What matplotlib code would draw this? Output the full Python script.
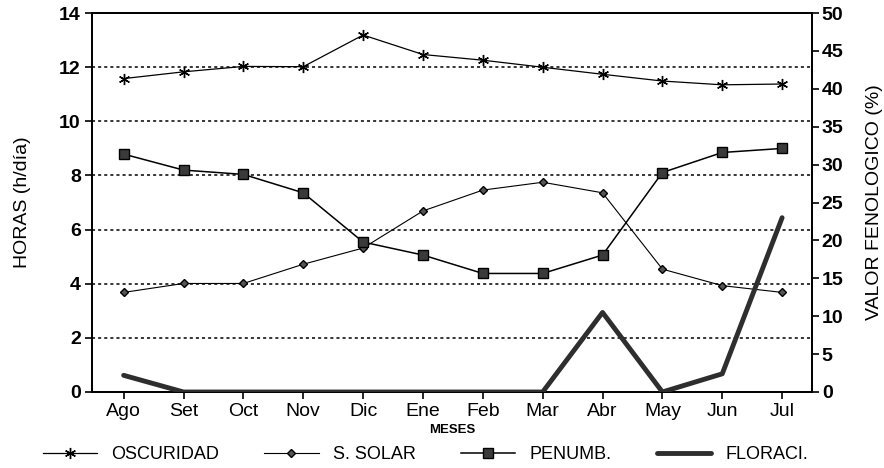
import numpy as np
import matplotlib
matplotlib.use("Agg")
import matplotlib.pyplot as plt

plt.rcParams['font.family'] = ['Liberation Sans', 'DejaVu Sans']

meses = ['Ago', 'Set', 'Oct', 'Nov', 'Dic', 'Ene', 'Feb', 'Mar', 'Abr', 'May', 'Jun', 'Jul']
oscuridad = [11.58, 11.83, 12.03, 12.02, 13.19, 12.47, 12.26, 12.0, 11.74, 11.49, 11.35, 11.38]
s_solar = [3.68, 4.01, 4.01, 4.72, 5.32, 6.69, 7.46, 7.75, 7.36, 4.54, 3.93, 3.68]
penumb = [8.79, 8.20, 8.04, 7.36, 5.54, 5.06, 4.38, 4.38, 5.06, 8.11, 8.85, 9.0]
floraci = [2.2, 0, 0, 0, 0, 0, 0, 0, 10.5, 0, 2.4, 23.0]

x = np.arange(len(meses))

fig = plt.figure(figsize=(8.84, 4.68), dpi=100)
ax1 = fig.add_axes([0.104, 0.1624, 0.8146, 0.8096])
ax2 = ax1.twinx()

for h in range(2, 14, 2):
    ax1.axhline(h, color='black', linestyle=(0, (2, 2)), linewidth=1.1, zorder=1)

l1, = ax1.plot(x, oscuridad, color='black', linewidth=0.9, marker=(6, 2, 0),
               markersize=8, markeredgewidth=1.0, label='OSCURIDAD', zorder=3)
l2, = ax1.plot(x, s_solar, color='black', linewidth=0.8, marker='D',
               markersize=4, markerfacecolor='#555555', markeredgecolor='black',
               label='S. SOLAR', zorder=3)
l3, = ax1.plot(x, penumb, color='black', linewidth=1.1, marker='s',
               markersize=7, markerfacecolor='#3a3a3a', markeredgecolor='black',
               label='PENUMB.', zorder=3)
l4, = ax2.plot(x, floraci, color='#2e2e2e', linewidth=3.5, label='FLORACI.',
               solid_capstyle='round', zorder=3)

ax1.set_xlim(-0.53, 11.5)
ax1.set_ylim(0, 14)
ax2.set_ylim(0, 50)
ax1.set_yticks(range(0, 15, 2))
ax2.set_yticks(range(0, 51, 5))
ax1.set_xticks(x)
ax1.set_xticklabels(meses, fontsize=14)
for t in ax1.get_yticklabels() + ax2.get_yticklabels():
    t.set_fontweight('bold')
    t.set_fontsize(14)

ax1.tick_params(axis='both', direction='out', length=5, width=1.2, pad=3)
ax2.tick_params(axis='y', direction='out', length=5, width=1.2, pad=2)
for ax in (ax1, ax2):
    for s in ax.spines.values():
        s.set_linewidth(1.3)

ax1.set_ylabel('HORAS (h/día)', fontsize=14, labelpad=20)
ax2.set_ylabel('VALOR FENOLOGICO (%)', fontsize=14, labelpad=16)
ax1.set_xlabel('MESES', fontsize=9.5, fontweight='bold', labelpad=3)

handles = [l1, l2, l3, l4]
fig.legend(handles, [h.get_label() for h in handles], loc='lower left',
           bbox_to_anchor=(0.03, -0.025), ncol=4, frameon=False, fontsize=13,
           handlelength=3.0, columnspacing=2.5, handletextpad=0.8)

plt.savefig('out.png', dpi=100)
